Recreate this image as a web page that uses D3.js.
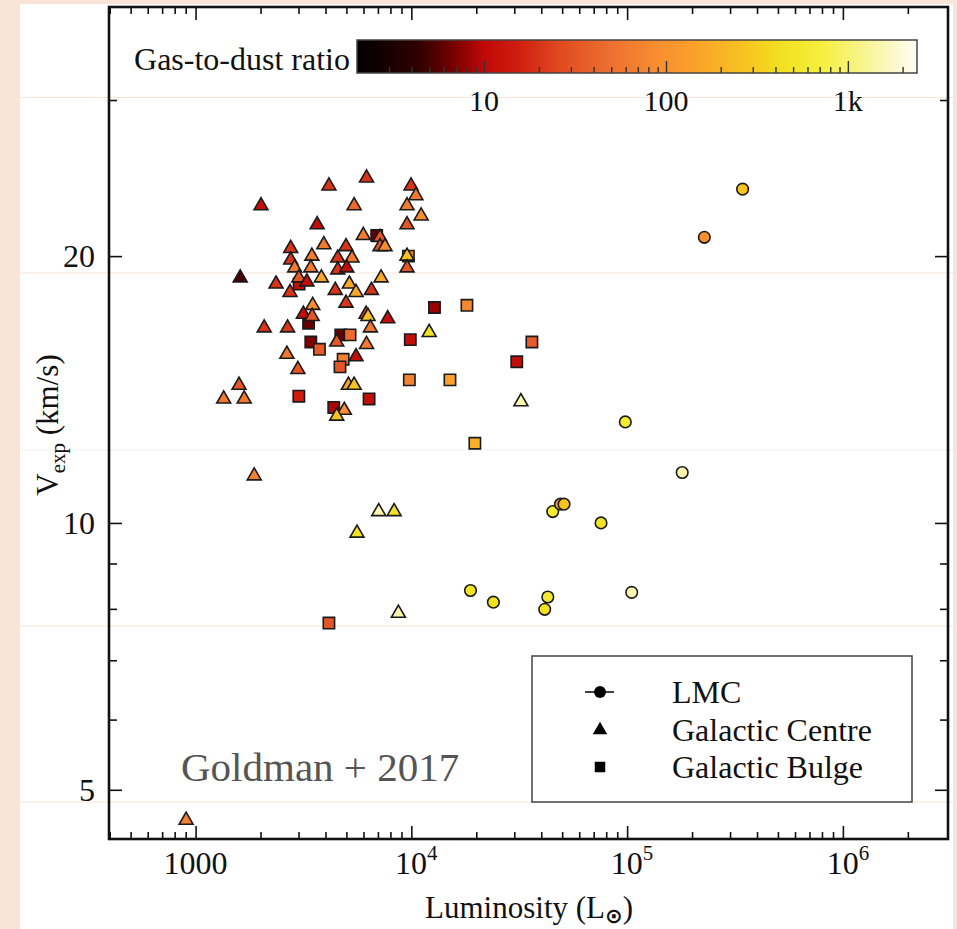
<!DOCTYPE html>
<html>
<head>
<meta charset="utf-8">
<script src="https://cdn.jsdelivr.net/npm/d3@7"></script>
<style>
  html, body { margin: 0; padding: 0; background: #f9e4d7; }
  svg { display: block; }
</style>
</head>
<body>
<svg id="chart" width="957" height="929"></svg>
<script>
// ---------------- data ----------------
// LMC sources
const lmcLum   = [343000, 228000, 98100, 180000, 45200, 49100, 51000, 75700, 18800, 24000, 42900, 41500, 105000];
const lmcVexp  = [23.8, 21.0, 13.0, 11.4, 10.3, 10.5, 10.5, 10.0, 8.39, 8.14, 8.25, 7.99, 8.35];
const lmcRatio = [270, 90, 600, 1500, 600, 160, 270, 450, 450, 450, 600, 450, 1500];

// Galactic Centre sources
const gcLum = [6200, 4150, 9970, 10500, 2010, 5430, 9550, 11100, 3660, 9550,
               5990, 7160, 2760, 3930, 4980, 7160, 7550, 9550, 2760, 3460,
               4560, 5310, 2880, 3420, 4560, 5020, 9550, 1610, 3010, 3280,
               3830, 7240, 2360, 2740, 4440, 5160, 5540, 6530, 4980, 3490,
               3160, 3470, 6170, 6300, 7770, 2080, 2670, 6460, 12100, 4510,
               6200, 2650, 5540, 2980, 5110, 5430, 1590, 1350, 1680, 4890,
               4510, 1870, 7060, 8320, 5600, 8710, 32200, 904];
const gcVexp = [24.5, 24.0, 24.0, 23.4, 22.8, 22.8, 22.8, 22.2, 21.7, 21.7,
                21.1, 21.0, 20.4, 20.6, 20.5, 20.5, 20.5, 20.0, 19.8, 20.0,
                19.9, 19.9, 19.4, 19.4, 19.3, 19.4, 19.4, 18.9, 18.9, 18.7,
                18.9, 18.9, 18.6, 18.2, 18.3, 18.6, 18.2, 18.3, 17.7, 17.6,
                17.2, 17.1, 17.2, 17.1, 17.0, 16.6, 16.6, 16.6, 16.4, 16.0,
                15.9, 15.5, 15.4, 14.9, 14.3, 14.3, 14.3, 13.8, 13.8, 13.4,
                13.2, 11.3, 10.3, 10.3, 9.74, 7.91, 13.7, 4.62];
const gcRatio = [20, 20, 20, 60, 11, 45, 60, 90, 11, 32,
                 60, 32, 20, 60, 20, 32, 90, 270, 20, 60,
                 20, 60, 60, 60, 20, 11, 32, 5, 32, 11,
                 160, 160, 20, 20, 20, 160, 160, 20, 20, 90,
                 11, 32, 20, 270, 11, 20, 20, 60, 450, 32,
                 60, 60, 11, 32, 160, 270, 32, 60, 60, 90,
                 270, 70, 1500, 450, 450, 1500, 1500, 70];

// Galactic Bulge sources
const bulgeLum   = [6910, 9690, 3020, 3340, 12800, 18100, 4710, 5200, 9890, 3420, 3750,
                    4830, 4670, 9790, 15100, 3010, 6370, 4370, 19700, 36200, 30800, 4150];
const bulgeVexp  = [21.1, 20.0, 18.6, 16.8, 17.5, 17.6, 16.3, 16.3, 16.1, 16.0, 15.7,
                    15.3, 15.0, 14.5, 14.5, 13.9, 13.8, 13.5, 12.3, 16.0, 15.2, 7.71];
const bulgeRatio = [6, 70, 11, 6, 8, 80, 6, 45, 11, 7, 35,
                    70, 32, 70, 140, 15, 11, 9, 190, 35, 11, 32];

// axis ticks and labels
const xMajorTicks  = [1000, 1e4, 1e5, 1e6];
const xMajorBase   = ["1000", "10", "10", "10"];
const xMajorExp    = ["", "4", "5", "6"];
const yMajorTicks  = [5, 10, 20];
const yMajorLabels = ["5", "10", "20"];
const yMinorTicks  = [6, 7, 8, 9, 30];
const ratioTicks       = [10, 100, 1000];
const ratioTickLabels  = ["10", "100", "1k"];

const legendNames = ["LMC", "Galactic Centre", "Galactic Bulge"];

// colour map for the gas-to-dust ratio (black -> red -> orange -> yellow -> white)
const cmapRatio  = [2, 4.4, 6.5, 10, 15.8, 26, 50, 93, 154, 256, 425, 708, 1176, 1960, 2400];
const cmapColors = ["#000000", "#300000", "#700000", "#c00808", "#d02010", "#e04a20",
                    "#ee7030", "#f89030", "#f9a52a", "#f7c020", "#f2e020", "#f5ef3c",
                    "#f8f488", "#fcfad8", "#fffff5"];

// ---------------- layout ----------------
const W = 957, H = 929;
const P = { left: 109, right: 948, top: 7, bottom: 839 };
const SERIF = "'Liberation Serif', 'Times New Roman', serif";

const svg = d3.select("#chart");

// page card
svg.append("rect").attr("x", 0).attr("y", 0).attr("width", W).attr("height", H).attr("fill", "#f9e4d7");
svg.append("rect").attr("x", 20).attr("y", 4).attr("width", 933).attr("height", H - 4).attr("fill", "#ffffff");
[97.5, 273, 450, 626, 802].forEach((yy, i) => {
  svg.append("line").attr("x1", 20).attr("x2", 953).attr("y1", yy).attr("y2", yy)
    .attr("stroke", i === 2 ? "#f6f0ec" : "#f8e4d8").attr("stroke-width", 1);
});

const x = d3.scaleLog().domain([397, 3.07e6]).range([P.left, P.right]);
const y = d3.scaleLog().domain([4.40, 38.2]).range([P.bottom, P.top]);
const color = d3.scaleLog().domain(cmapRatio).range(cmapColors)
  .interpolate(d3.interpolateRgb).clamp(true);

function txt(parent, px, py, str, size, anchor, fill) {
  return parent.append("text")
    .attr("x", px).attr("y", py)
    .attr("font-family", SERIF)
    .attr("font-size", size)
    .attr("text-anchor", anchor || "start")
    .attr("fill", fill || "#111")
    .text(str);
}

// ---------------- axes ----------------
const xMinorTicks = [];
for (let e = 2; e <= 6; e++) {
  for (let m = 2; m <= 9; m++) {
    const v = m * Math.pow(10, e);
    if (v > x.domain()[0] && v < 2.5e6) xMinorTicks.push(v);
  }
}

function styleAxis(g) {
  g.select(".domain").remove();
  g.selectAll(".tick line").attr("stroke", "#111").attr("stroke-width", 1.6);
  g.selectAll(".tick text").remove();
}

const axes = svg.append("g");
axes.append("g").attr("transform", `translate(0,${P.bottom})`)
  .call(d3.axisBottom(x).tickValues(xMinorTicks).tickSize(-7).tickFormat("")).call(styleAxis);
axes.append("g").attr("transform", `translate(0,${P.bottom})`)
  .call(d3.axisBottom(x).tickValues(xMajorTicks).tickSize(-13).tickFormat("")).call(styleAxis);
axes.append("g").attr("transform", `translate(0,${P.top})`)
  .call(d3.axisTop(x).tickValues(xMinorTicks).tickSize(-7).tickFormat("")).call(styleAxis);
axes.append("g").attr("transform", `translate(0,${P.top})`)
  .call(d3.axisTop(x).tickValues(xMajorTicks).tickSize(-13).tickFormat("")).call(styleAxis);
axes.append("g").attr("transform", `translate(${P.left},0)`)
  .call(d3.axisLeft(y).tickValues(yMinorTicks).tickSize(-8).tickFormat("")).call(styleAxis);
axes.append("g").attr("transform", `translate(${P.left},0)`)
  .call(d3.axisLeft(y).tickValues(yMajorTicks).tickSize(-13).tickFormat("")).call(styleAxis);
axes.append("g").attr("transform", `translate(${P.right},0)`)
  .call(d3.axisRight(y).tickValues(yMinorTicks).tickSize(-8).tickFormat("")).call(styleAxis);
axes.append("g").attr("transform", `translate(${P.right},0)`)
  .call(d3.axisRight(y).tickValues(yMajorTicks).tickSize(-13).tickFormat("")).call(styleAxis);

// tick labels
xMajorTicks.forEach((v, i) => {
  const t = txt(svg, x(v), 874, xMajorBase[i], 32, "middle");
  if (xMajorExp[i]) {
    t.attr("x", x(v) + 5);
    t.append("tspan").attr("dy", -14).attr("font-size", 21).text(xMajorExp[i]);
  }
});
yMajorTicks.forEach((v, i) => {
  txt(svg, 95, y(v) + 11, yMajorLabels[i], 32, "end");
});

// axis titles
const xt = txt(svg, 529, 918, "Luminosity (L", 31, "middle");
xt.append("tspan").attr("dy", 5).attr("font-size", 21).attr("font-family", "DejaVu Sans")
  .attr("font-weight", "bold").text("\u2299");
xt.append("tspan").attr("dy", -5).text(")");

const yt = svg.append("text")
  .attr("transform", "translate(58,425) rotate(-90)")
  .attr("font-family", SERIF).attr("font-size", 31).attr("text-anchor", "middle").attr("fill", "#111");
yt.append("tspan").text("V");
yt.append("tspan").attr("dy", 7).attr("font-size", 21).text("exp");
yt.append("tspan").attr("dy", -7).text(" (km/s)");

// ---------------- markers ----------------
const marks = svg.append("g");
const toRows = (L, V, R) => L.map((l, i) => ({ lum: l, vexp: V[i], ratio: R[i] }));

function plotSeries(rows, symbolType, size) {
  marks.append("g").selectAll("path").data(rows).join("path")
    .attr("d", d3.symbol().type(symbolType).size(size))
    .attr("transform", d => `translate(${x(d.lum)},${y(d.vexp)})`)
    .attr("fill", d => color(d.ratio))
    .attr("stroke", "#1a1a1a")
    .attr("stroke-width", 1.6)
    .attr("stroke-linejoin", "miter");
}
plotSeries(toRows(bulgeLum, bulgeVexp, bulgeRatio), d3.symbolSquare, 128);
plotSeries(toRows(gcLum, gcVexp, gcRatio), d3.symbolTriangle, 84);
plotSeries(toRows(lmcLum, lmcVexp, lmcRatio), d3.symbolCircle, 105);

// ---------------- frame ----------------
svg.append("rect").attr("x", P.left).attr("y", P.top)
  .attr("width", P.right - P.left).attr("height", P.bottom - P.top)
  .attr("fill", "none").attr("stroke", "#111").attr("stroke-width", 2.6);

// ---------------- colour bar ----------------
const cb = { x0: 357, x1: 917, y0: 40, y1: 73 };
const cx = d3.scaleLog().domain([2, 2400]).range([cb.x0, cb.x1]);
const defs = svg.append("defs");
const grad = defs.append("linearGradient").attr("id", "ratioGrad")
  .attr("x1", "0%").attr("x2", "100%").attr("y1", "0%").attr("y2", "0%");
d3.range(0, 101).forEach(k => {
  const v = cx.invert(cb.x0 + (cb.x1 - cb.x0) * k / 100);
  grad.append("stop").attr("offset", `${k}%`).attr("stop-color", color(v));
});
svg.append("rect").attr("x", cb.x0).attr("y", cb.y0)
  .attr("width", cb.x1 - cb.x0).attr("height", cb.y1 - cb.y0)
  .attr("fill", "url(#ratioGrad)");

const cbMinor = [];
for (let e = 0; e <= 3; e++) {
  for (let m = 2; m <= 9; m++) {
    const v = m * Math.pow(10, e);
    if (v > 2 && v < 2400) cbMinor.push(v);
  }
}
const cbAxis = svg.append("g");
cbAxis.append("g").attr("transform", `translate(0,${cb.y1})`)
  .call(d3.axisBottom(cx).tickValues(cbMinor).tickSize(-6).tickFormat("")).call(styleAxis);
cbAxis.append("g").attr("transform", `translate(0,${cb.y1})`)
  .call(d3.axisBottom(cx).tickValues(ratioTicks).tickSize(-12).tickFormat("")).call(styleAxis);
cbAxis.selectAll(".tick line").attr("stroke", "#333").attr("stroke-width", 1.4);
svg.append("rect").attr("x", cb.x0).attr("y", cb.y0)
  .attr("width", cb.x1 - cb.x0).attr("height", cb.y1 - cb.y0)
  .attr("fill", "none").attr("stroke", "#444").attr("stroke-width", 1.5);

ratioTicks.forEach((v, i) => txt(svg, cx(v), 111, ratioTickLabels[i], 30, "middle"));
txt(svg, 350, 70, "Gas-to-dust ratio", 32, "end");

// ---------------- legend ----------------
const lg = svg.append("g");
lg.append("rect").attr("x", 532).attr("y", 656).attr("width", 380).attr("height", 146)
  .attr("fill", "#fff").attr("stroke", "#444").attr("stroke-width", 1.5);
const legendY = [692, 730, 767];
lg.append("line").attr("x1", 585).attr("x2", 614).attr("y1", legendY[0]).attr("y2", legendY[0])
  .attr("stroke", "#111").attr("stroke-width", 1.6);
const legendSymbols = [d3.symbolCircle, d3.symbolTriangle, d3.symbolSquare];
const legendSizes = [110, 90, 110];
legendNames.forEach((name, i) => {
  lg.append("path").attr("d", d3.symbol().type(legendSymbols[i]).size(legendSizes[i]))
    .attr("transform", `translate(600,${legendY[i]})`).attr("fill", "#000");
  txt(lg, 672, legendY[i] + 11, name, 32, "start");
});

// ---------------- annotation ----------------
txt(svg, 181, 781, "Goldman + 2017", 41, "start", "#555");
</script>
</body>
</html>
